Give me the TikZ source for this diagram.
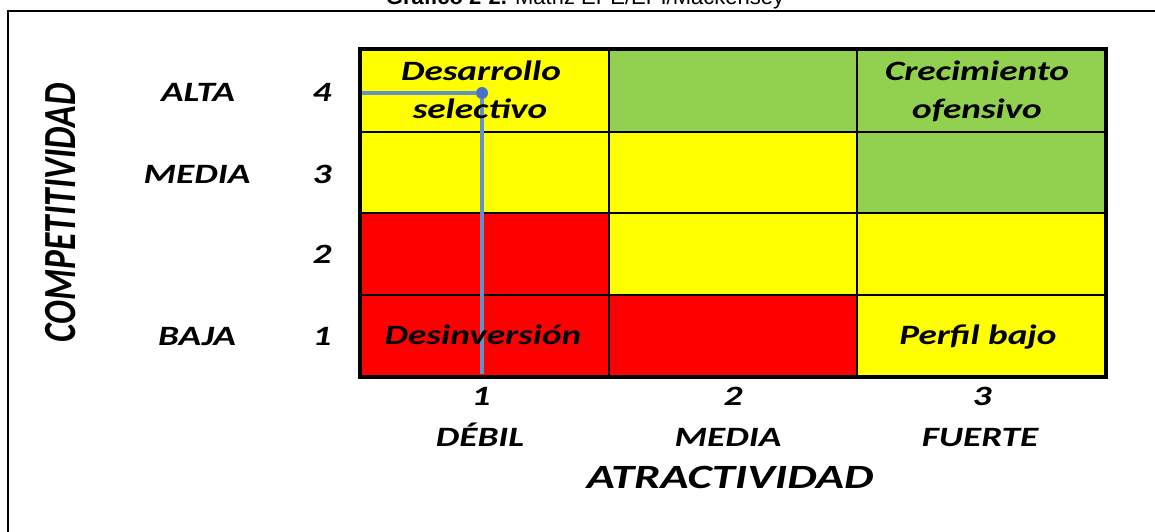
\documentclass[tikz,border=0pt]{standalone}
\usepackage{fontspec}
\setmainfont{Liberation Sans}
\newfontfamily\cw[FakeStretch=1.33]{Carlito}
\newfontfamily\cwa[FakeStretch=1.37]{Carlito}
\newfontfamily\cwn[FakeStretch=0.77]{Carlito}
\definecolor{cY}{RGB}{255,255,0}
\definecolor{cR}{RGB}{255,0,0}
\definecolor{cG}{RGB}{146,208,80}
\definecolor{lnblue}{RGB}{100,145,200}
\definecolor{dotblue}{RGB}{68,114,196}
\tikzset{
  cell/.style={draw=black, line width=2pt, minimum width=248pt, minimum height=81.5pt, inner sep=0pt, anchor=north west},
  ct/.style={font=\cw\bfseries\itshape\fontsize{28}{28}\selectfont, inner sep=0pt, anchor=base},
  ax/.style={font=\cw\bfseries\itshape\fontsize{28}{28}\selectfont, inner sep=0pt, anchor=base},
  bigax/.style={font=\cwa\bfseries\itshape\fontsize{34}{34}\selectfont, inner sep=0pt, anchor=base},
  vax/.style={font=\cwn\bfseries\itshape\fontsize{46}{46}\selectfont, inner sep=0pt, rotate=90},
  blueln/.style={draw=lnblue, line width=3.5pt},
  dotnode/.style={circle, fill=dotblue, minimum size=12pt, inner sep=0pt},
}
\begin{document}
\begin{tikzpicture}[x=1pt,y=-1pt]
\useasboundingbox (0,0) rectangle (1155,532);
% title (partly cut off at the top, as in the reference)
\node[font=\fontsize{22}{22}\selectfont, inner sep=0pt, anchor=base] (title) at (585,5) {\textbf{Gráfico 2-2.} Matriz EPE/EPI/Mackensey};
% frame
\draw[line width=2pt] (1160,11) -- (8,11) -- (8,540);
% cells: row 4 (top)
\node[cell, fill=cY] (c14) at (360,49) {};
\node[cell, fill=cG] (c24) at (608,49) {};
\node[cell, fill=cG] (c34) at (856,49) {};
% row 3
\node[cell, fill=cY] (c13) at (360,130.5) {};
\node[cell, fill=cY] (c23) at (608,130.5) {};
\node[cell, fill=cG] (c33) at (856,130.5) {};
% row 2
\node[cell, fill=cR] (c12) at (360,212) {};
\node[cell, fill=cY] (c22) at (608,212) {};
\node[cell, fill=cY] (c32) at (856,212) {};
% row 1
\node[cell, fill=cR] (c11) at (360,293.5) {};
\node[cell, fill=cR] (c21) at (608,293.5) {};
\node[cell, fill=cY] (c31) at (856,293.5) {};
% outer border
\draw[line width=4.5pt] (c14.north west) rectangle (c31.south east);
% blue position lines
\node[dotnode] (p) at (482,93) {};
\coordinate (pl) at (362,93);
\coordinate (pb) at (482,374);
\draw[blueln] (pl) -- (p) -- (pb);
% cell texts
\node[ct] (t1a) at (481,81) {Desarrollo};
\node[ct] (t1b) at (480,118) {selectivo};
\node[ct] (t2a) at (977,81) {Crecimiento};
\node[ct] (t2b) at (977,118) {ofensivo};
\node[ct] (t3) at (483,344) {Desinversión};
\node[ct] (t4) at (978,344) {Perfil bajo};
% vertical axis
\node[vax] (vt) at (61,213) {COMPETITIVIDAD};
\node[ax] (alta) at (198,102) {ALTA};
\node[ax] (media) at (197,183) {MEDIA};
\node[ax] (baja) at (197,345) {BAJA};
\node[ax] (n4) at (322,102) {4};
\node[ax] (n3) at (322,183) {3};
\node[ax] (n2) at (322,263) {2};
\node[ax] (n1) at (322,345) {1};
% horizontal axis
\node[ax] (h1) at (481,405) {1};
\node[ax] (h2) at (733,405) {2};
\node[ax] (h3) at (982,405) {3};
\node[ax] (debil) at (480,446) {DÉBIL};
\node[ax] (hmedia) at (728,446) {MEDIA};
\node[ax] (fuerte) at (980,446) {FUERTE};
\node[bigax] (ht) at (730,488) {ATRACTIVIDAD};
\end{tikzpicture}
\end{document}
